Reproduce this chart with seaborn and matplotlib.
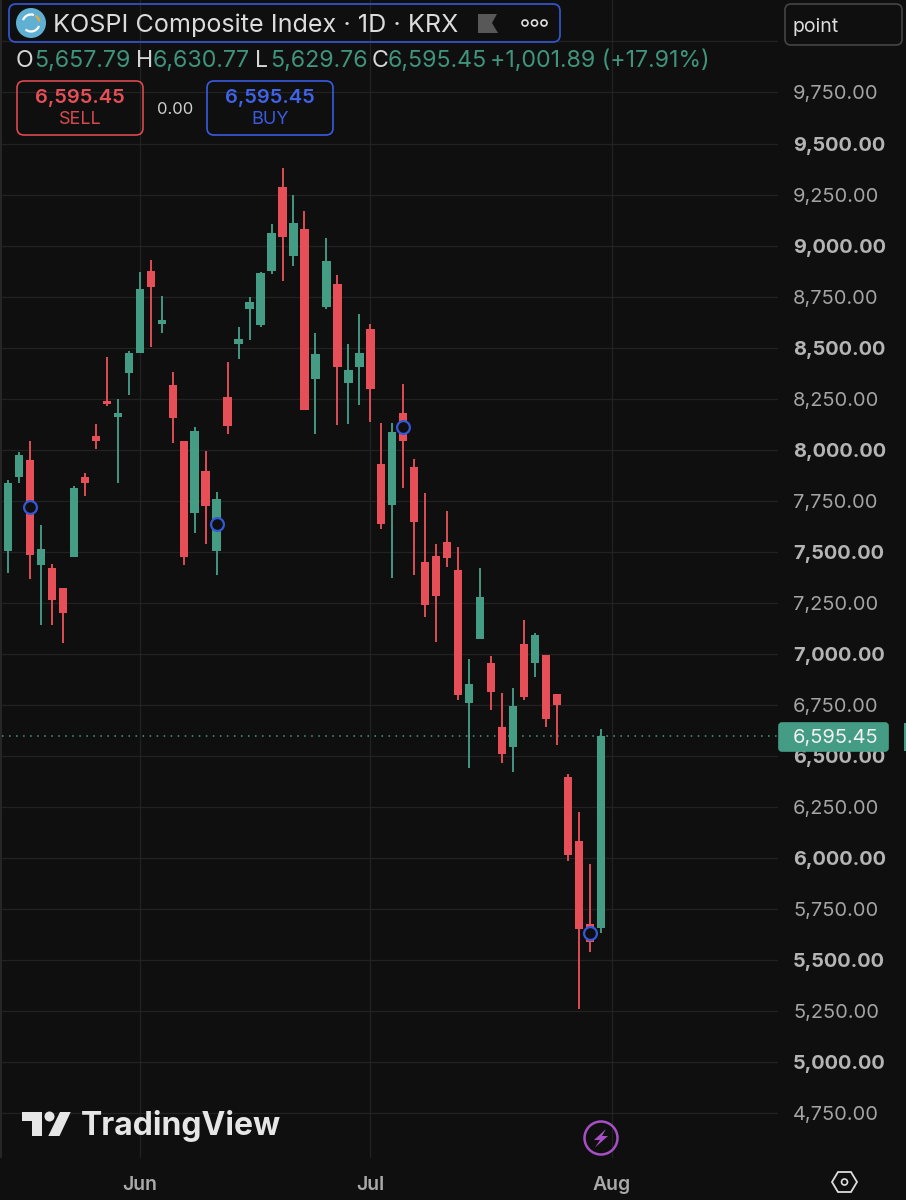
import numpy as np
import pandas as pd
import matplotlib
matplotlib.use("Agg")
import matplotlib.pyplot as plt
from matplotlib.patches import FancyBboxPatch, Circle, Polygon, Arc, Rectangle
import seaborn as sns

# --- data ---
opens = [7505,7864,7949,7433,7420,7322,7475,7866,8067,8238,8158,8375,8475,8877,8615,8318,8044,7691,7895,7502,
         8258,8517,8689,8610,8877,9285,8947,9079,8346,8697,8810,8326,8406,8589,7928,7730,8181,7916,7449,7480,
         7549,7409,6760,7073,6953,6639,6543,7047,6953,6992,6801,6394,6082,5675,5657.79]
closes = [7838,7975,7485,7511,7263,7199,7812,7838,8042,8222,8181,8473,8787,8795,8635,8153,7475,8093,7724,7758,
          8117,8540,8723,8864,9060,9043,9112,8194,8468,8926,8403,8390,8472,8295,7637,8086,8044,7645,7240,7283,
          7469,6796,6851,7279,6812,6507,6744,6786,7090,6680,6748,6015,5652,5587,6595.45]
highs = [7851,7987,8042,7631,7439,7322,7822,7885,8125,8454,8249,8483,8870,8929,8753,8380,8044,8112,7993,7794,
         8431,8602,8749,8869,9104,9381,9247,9171,8573,9038,8857,8517,8664,8615,8132,8132,8321,7952,7786,7537,
         7698,7524,6972,7420,6989,6806,6830,7164,7100,6992,6801,6410,6224,5969,6630.77]
lows = [7397,7838,7367,7141,7139,7052,7475,7774,8004,8214,7835,8269,8475,8501,8573,8034,7435,7593,7537,7387,
        8076,8445,8536,8602,8862,8826,8900,8194,8076,8690,8120,8125,8218,8137,7609,7372,7812,7384,7181,7059,
        7426,6773,6441,7073,6724,6466,6422,6773,6887,6642,6552,5986,5257,5540,5629.76]
ring_index = [2, 19, 36, 53]
ring_price = [7719, 7634, 8113, 5631]
last_price = 6595.45
price_ticks = [p for p in range(4750, 10001, 250)]
month_index = [12, 33, 55]
month_labels = ["Jun", "Jul", "Aug"]

BG = "#0f0f0f"
GRID = "#222222"
RED = "#e64f57"
GREEN = "#459c85"
GREEN_TXT = "#3f947b"
BLUE = "#3353c8"
RING = "#3258d8"
FONT = "Inter"

sns.set_theme(style="darkgrid", rc={
    "figure.facecolor": BG, "axes.facecolor": BG, "grid.color": GRID, "grid.linewidth": 0.9,
    "savefig.facecolor": BG, "axes.edgecolor": BG,
})
plt.rcParams["font.family"] = [FONT, "DejaVu Sans"]

W, H = 906, 1200
fig = plt.figure(figsize=(W / 100, H / 100), dpi=100)
L, R, T, B = 2, 778, 0, 1158
ax = fig.add_axes([L / W, 1 - B / H, (R - L) / W, (B - T) / H])

df = pd.DataFrame({"i": range(len(opens)), "o": opens, "c": closes, "h": highs, "l": lows})
df["lower"] = df[["o", "c"]].min(axis=1)
df["height"] = (df["c"] - df["o"]).abs()
df["up"] = df["c"] >= df["o"]

long = df.melt(id_vars=["i", "up"], value_vars=["h", "l"], value_name="price").sort_values(["i", "variable"])

for up, colour in [(True, GREEN), (False, RED)]:
    sub = long[long["up"] == up]
    sns.lineplot(data=sub, x="i", y="price", units="i", estimator=None, sort=False,
                 color=colour, lw=1.35, ax=ax, legend=False, solid_capstyle="butt", zorder=3)
    body = df[df["up"] == up]
    sns.barplot(data=body, x="i", y="height", bottom=body["lower"].to_numpy(), native_scale=True,
                color=colour, saturation=1, width=0.76, errorbar=None, ax=ax, zorder=4, linewidth=0)

sns.scatterplot(x=ring_index, y=ring_price, s=85, facecolor=BG, edgecolor=RING, linewidth=1.6, ax=ax, zorder=6)
ax.axhline(last_price, color=GREEN, lw=1.1, ls=(0, (1, 3.6)), zorder=2)

ax.set_xlim((L - 8) / 10.98, (R - 8) / 10.98)
ax.set_ylim(10203.25 - 4.9 * B, 10203.25)
ax.set_xlabel("")
ax.set_ylabel("")
ax.set_xticks(month_index, month_labels)
ax.set_yticks(price_ticks, [f"{p:,.2f}" if p < 10000 else "" for p in price_ticks])
ax.yaxis.tick_right()
ax.tick_params(axis="y", length=0, pad=10.8, labelsize=14.4, labelcolor="#a9a9a9")
ax.tick_params(axis="x", length=0, pad=13.3, labelsize=14, labelcolor="#a9a9a9")
for lbl, p in zip(ax.get_yticklabels(), price_ticks):
    lbl.set_fontweight("bold" if p % 500 == 0 else "normal")
    lbl.set_color("#b4b4b4" if p % 500 == 0 else "#a4a4a4")
for lbl in ax.get_xticklabels():
    lbl.set_fontweight("semibold")
ax.grid(True, zorder=0)
ax.set_axisbelow(True)
for s in ax.spines.values():
    s.set_visible(False)

# --- interface furniture, in pixel coordinates ---
ov = fig.add_axes([0, 0, 1, 1], facecolor="none")
ov.set_xlim(0, W)
ov.set_ylim(H, 0)
ov.axis("off")


def rbox(x0, y0, x1, y1, ec, fc="none", lw=1.2, r=7):
    ov.add_patch(FancyBboxPatch((x0 + r, y0 + r), x1 - x0 - 2 * r, y1 - y0 - 2 * r,
                                boxstyle=f"round,pad={r},rounding_size={r}", ec=ec, fc=fc, lw=lw))


def label(x, y, s, c, size=14, ha="left", weight="normal"):
    return ov.text(x, y, s, color=c, fontsize=size, ha=ha, va="center", fontweight=weight)


# left edge strip
ov.add_patch(Rectangle((0, 0), 2, 1158, fc="#262626", ec="none"))

# title
rbox(9, 4, 560, 42, BLUE, lw=1.3)
ov.add_patch(Circle((31, 23), 15, fc="#5fb0d3", ec="none"))
ov.add_patch(Arc((31, 23), 17, 17, theta1=20, theta2=130, ec="#ffffff", lw=1.6))
ov.add_patch(Arc((31, 23), 17, 17, theta1=200, theta2=290, ec="#ffffff", lw=1.6))
ov.add_patch(Arc((31, 23), 17, 17, theta1=300, theta2=350, ec="#e8a83a", lw=1.6))
label(53, 25.5, "KOSPI Composite Index · 1D · KRX", "#dcdcdc", 18.1)
ov.add_patch(Polygon([(478, 14), (497, 14), (492, 23), (498, 33), (478, 33)], fc="#585858", ec="none"))
for cx in (525, 534.5, 544):
    ov.add_patch(Circle((cx, 23), 3, fc="none", ec="#e0e0e0", lw=1.2))

# OHLC
for x, letter, xv, val in [(16, "O", 34, "5,657.79"), (136, "H", 153, "6,630.77"),
                           (255, "L", 270, "5,629.76"), (372, "C", 388, "6,595.45")]:
    label(x, 61, letter, "#d6d6d6", 16.7)
    label(xv, 61, val, GREEN_TXT, 16.7)
label(490, 61, "+1,001.89 (+17.91%)", GREEN_TXT, 16.7)

# buttons
rbox(17, 81, 143, 135, "#d9494f")
label(80, 98, "6,595.45", RED, 14.5, "center", "semibold")
label(80, 120, "SELL", "#d9494f", 13, "center")
label(175, 109, "0.00", "#d0d0d0", 12, "center")
rbox(207, 81, 333, 135, "#3a5be0")
label(270, 98, "6,595.45", "#3f62e6", 14.5, "center", "semibold")
label(270, 120, "BUY", "#3a5be0", 13, "center")

# scale mode box
rbox(785, 4, 902, 45, "#454545", r=6)
label(792, 27.5, "point", "#dddddd", 14)

# last price tag
rbox(779, 723, 888, 751, GREEN, fc=GREEN, r=3)
label(835.5, 737.5, "6,595.45", "#f2f2f2", 14.4, "center")
ov.add_patch(Rectangle((904, 723), 2, 28, fc=GREEN, ec="none"))

# TradingView mark
MARK = "#e6e6e6"
ov.add_patch(Polygon([(21.7, 1112), (42.3, 1112), (42.3, 1136), (31.7, 1136), (31.7, 1121), (21.7, 1121)], fc=MARK, ec="none"))
ov.add_patch(Circle((49.5, 1116.5), 5, fc=MARK, ec="none"))
ov.add_patch(Polygon([(60, 1112), (70.7, 1112), (59.5, 1136), (48.3, 1136)], fc=MARK, ec="none"))
label(81, 1126.5, "TradingView", MARK, 23, weight="bold")

# bolt
ov.add_patch(Circle((601, 1138), 16.5, fc="none", ec="#a750c6", lw=1.8))
ov.add_patch(Polygon([(606, 1129), (594, 1140), (600, 1140), (595, 1147.5), (608, 1136), (602, 1136)], fc="#a750c6", ec="none"))

# settings hexagon
ov.add_patch(Polygon([(832, 1182), (838, 1172), (851, 1172), (857, 1182), (851, 1192), (838, 1192)],
                     fc="none", ec="#dddddd", lw=1.3))
ov.add_patch(Circle((844.5, 1182), 3, fc="none", ec="#dddddd", lw=1.2))

fig.savefig("out.png", dpi=100, facecolor=BG)
